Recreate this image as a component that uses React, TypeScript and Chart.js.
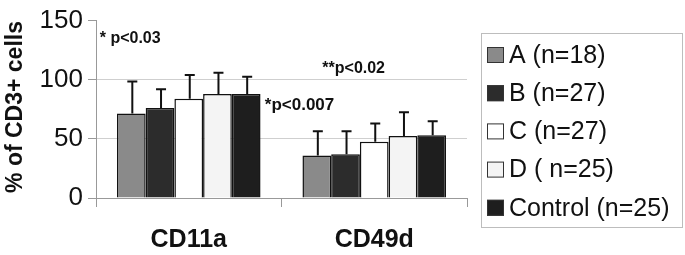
import React, { useEffect, useRef } from "react";
import { Chart, registerables } from "chart.js";

Chart.register(...registerables);

const categories = ["CD11a", "CD49d"];
const seriesLabels = ["A (n=18)", "B (n=27)", "C (n=27)", "D ( n=25)", "Control (n=25)"];
const seriesColors = ["#8a8a8a", "#2c2c2c", "#ffffff", "#f4f4f4", "#1e1e1e"];
const meanA = [71.5, 36];
const meanB = [76, 37];
const meanC = [84, 47.5];
const meanD = [88, 52.5];
const meanControl = [88, 53];
const sdA = [27, 20.5];
const sdB = [16, 19.5];
const sdC = [20, 15.5];
const sdD = [18, 20];
const sdControl = [14.5, 12];
const yTicks = [0, 50, 100, 150];
const annotations = [
  { text: "* p<0.03", cat: 0, dx: -0.48, value: 135, size: 16 },
  { text: "**p<0.02", cat: 1, dx: -0.28, value: 109, size: 16 },
  { text: "*p<0.007", cat: 0, dx: 0.41, value: 78, size: 17 },
];

const FONT = "'Liberation Sans', Arial, Helvetica, sans-serif";

const means = [meanA, meanB, meanC, meanD, meanControl];
const sds = [sdA, sdB, sdC, sdD, sdControl];

const overlayPlugin = {
  id: "overlay",
  afterDatasetsDraw(chart: any) {
    const ctx = chart.ctx;
    const yScale = chart.scales.y;
    const xScale = chart.scales.x;
    ctx.save();
    // error bars
    chart.data.datasets.forEach((ds: any, di: number) => {
      const meta = chart.getDatasetMeta(di);
      meta.data.forEach((bar: any, i: number) => {
        const top = yScale.getPixelForValue(ds.data[i] + ds.sd[i]);
        const x = bar.x + 1;
        ctx.strokeStyle = "#111";
        ctx.lineWidth = 2;
        ctx.beginPath();
        ctx.moveTo(x, bar.y);
        ctx.lineTo(x, top);
        ctx.moveTo(x - 5, top);
        ctx.lineTo(x + 5, top);
        ctx.stroke();
      });
    });
    // annotations
    const catW = xScale.width / categories.length;
    ctx.fillStyle = "#111";
    ctx.textBaseline = "middle";
    ctx.textAlign = "left";
    annotations.forEach((a) => {
      ctx.font = `bold ${a.size}px ${FONT}`;
      const x = xScale.getPixelForValue(a.cat) + a.dx * catW;
      ctx.fillText(a.text, x, yScale.getPixelForValue(a.value));
    });
    // y title
    ctx.save();
    ctx.translate(16, 107);
    ctx.rotate(-Math.PI / 2);
    ctx.textAlign = "center";
    ctx.font = `bold 23px ${FONT}`;
    ctx.fillText("% of CD3+ cells", 0, 0);
    ctx.restore();
    // legend
    const lx = 481, ly = 33, lw = 201, lh = 194;
    ctx.strokeStyle = "#bdbdbd";
    ctx.lineWidth = 1;
    ctx.strokeRect(lx + 0.5, ly + 0.5, lw, lh);
    chart.data.datasets.forEach((ds: any, di: number) => {
      const cy = 55 + di * 38.2;
      ctx.fillStyle = ds.backgroundColor;
      ctx.fillRect(487, cy - 8, 17, 16);
      ctx.strokeStyle = "#333";
      ctx.lineWidth = 1;
      ctx.strokeRect(487.5, cy - 7.5, 16, 15);
      ctx.fillStyle = "#111";
      ctx.font = `25px ${FONT}`;
      ctx.textAlign = "left";
      ctx.textBaseline = "middle";
      ctx.fillText(ds.label, 509, cy + 1);
    });
    ctx.restore();
  },
};

export default function App() {
  const ref = useRef<HTMLCanvasElement>(null);
  useEffect(() => {
    document.body.style.margin = "0";
    const chart = new Chart(ref.current!, {
      type: "bar",
      data: {
        labels: categories,
        datasets: seriesLabels.map((label, i) => ({
          label,
          data: means[i],
          sd: sds[i],
          backgroundColor: seriesColors[i],
          borderColor: "#111",
          borderWidth: 1.5,
          categoryPercentage: 0.774,
          barPercentage: 1,
        })) as any,
      },
      options: {
        animation: false,
        responsive: false,
        layout: { padding: { top: 15, right: 218, left: 0, bottom: 0 } },
        plugins: { legend: { display: false }, tooltip: { enabled: false } },
        scales: {
          x: {
            grid: { drawOnChartArea: false, tickLength: 9, color: "#999", offset: true },
            border: { color: "#999" },
            ticks: { font: { family: FONT, size: 25, weight: "bold" }, color: "#111", padding: 18 },
            afterFit: (s: any) => { s.height = 57; },
          },
          y: {
            min: 0,
            max: 150,
            afterBuildTicks: (s: any) => { s.ticks = yTicks.map((v) => ({ value: v })); },
            grid: {
              color: (c: any) => (c.tick && c.tick.value === 150 ? "rgba(0,0,0,0)" : "#cfcfcf"),
              tickColor: "#999",
              tickLength: 8,
            },
            border: { color: "#999" },
            ticks: { font: { family: FONT, size: 26 }, color: "#111", padding: 5 },
            afterFit: (s: any) => { s.width = 96; },
          },
        },
      },
      plugins: [overlayPlugin],
    });
    return () => chart.destroy();
  }, []);
  return <canvas ref={ref} width={685} height={255} style={{ display: "block" }} />;
}
